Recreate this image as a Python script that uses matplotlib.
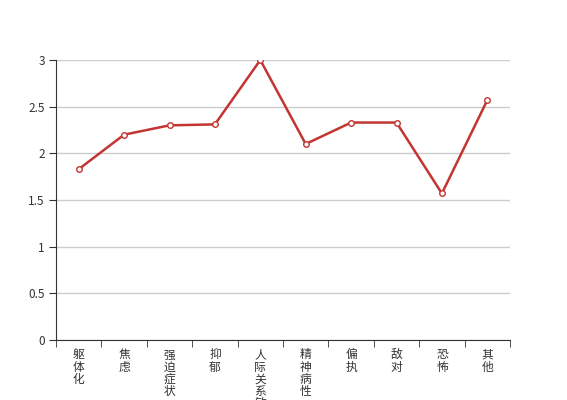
import numpy as np
import matplotlib
matplotlib.use('Agg')
import matplotlib.pyplot as plt

plt.rcParams['font.family'] = ['Noto Sans CJK SC', 'DejaVu Sans']

categories = ['躯体化', '焦虑', '强迫症状', '抑郁', '人际关系敏感', '精神病性', '偏执', '敌对', '恐怖', '其他']
values = [1.83, 2.2, 2.3, 2.31, 3.0, 2.1, 2.33, 2.33, 1.57, 2.57]
y_ticks = [0, 0.5, 1, 1.5, 2, 2.5, 3]
y_tick_labels = ['0', '0.5', '1', '1.5', '2', '2.5', '3']

fig = plt.figure(figsize=(5.67, 4.0), dpi=100)
ax = fig.add_axes([56 / 567, 60 / 400, (510 - 56) / 567, 280 / 400])

x = np.arange(len(categories))
ax.plot(x, values, color='#c23531', lw=1.8, marker='o', ms=4,
        markerfacecolor='white', markeredgecolor='#c23531', mew=1, zorder=3)

ax.set_xlim(-0.5, len(categories) - 0.5)
ax.set_ylim(0, 3)
ax.set_yticks(y_ticks)
ax.set_yticklabels(y_tick_labels)
ax.yaxis.grid(True, color='#cccccc', lw=1)
ax.set_axisbelow(True)

ax.set_xticks(x)
ax.set_xticklabels(['\n'.join(c) for c in categories], va='top', linespacing=0.92)
ax.set_xticks(np.arange(len(categories) + 1) - 0.5, minor=True)
ax.tick_params(axis='x', which='major', length=0, pad=6, labelsize=8.5, colors='#333333')
ax.tick_params(axis='x', which='minor', length=5, direction='out', color='#333333')
ax.tick_params(axis='y', length=5, direction='out', labelsize=8.5, colors='#333333', pad=3)

for s in ['top', 'right']:
    ax.spines[s].set_visible(False)
for s in ['left', 'bottom']:
    ax.spines[s].set_color('#333333')

fig.savefig('out.png', dpi=100)
